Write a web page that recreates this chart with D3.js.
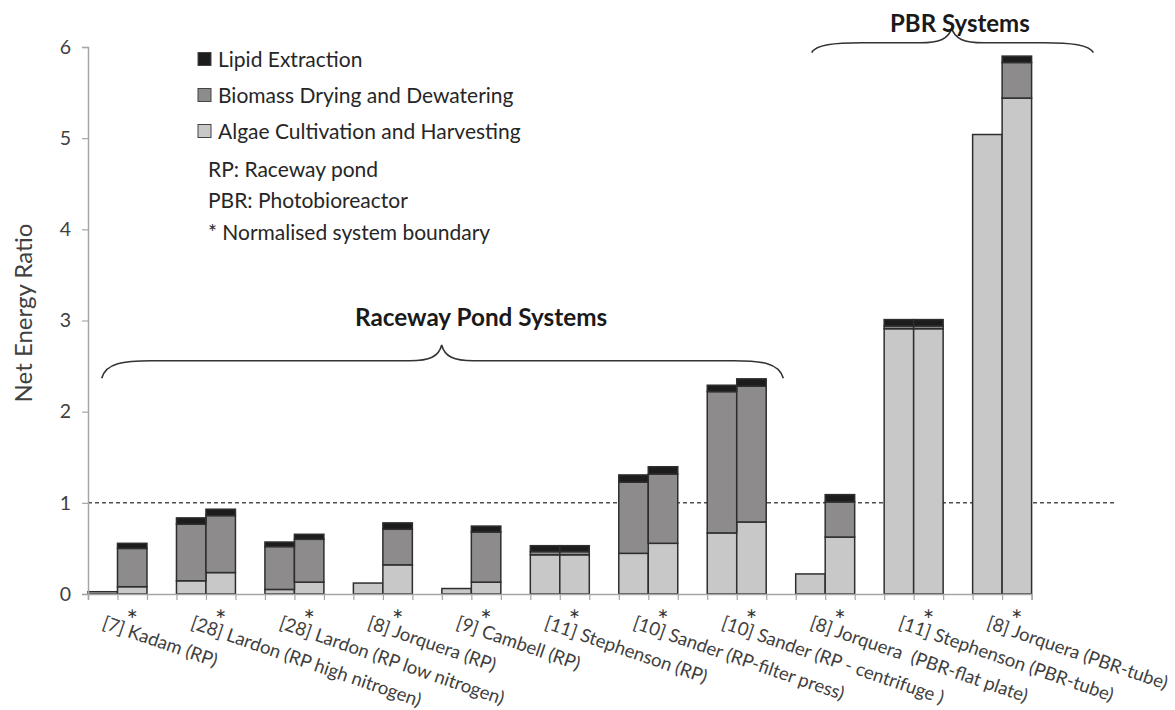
<!DOCTYPE html>
<html>
<head>
<meta charset="utf-8">
<script src="https://cdn.jsdelivr.net/npm/d3@7"></script>
<style>
    body { margin: 0; background: #fff; }
    svg { display: block; font-family: Lato, "Open Sans", sans-serif; }
</style>
</head>
<body>
<svg id="chart" width="1175" height="710"></svg>
<script>
// one entry per study, two bars each: original boundary, then normalised (*)
const groupLabels = [
    "[7] Kadam (RP)",
    "[28] Lardon (RP high nitrogen)",
    "[28] Lardon (RP low nitrogen)",
    "[8] Jorquera (RP)",
    "[9] Cambell (RP)",
    "[11] Stephenson (RP)",
    "[10] Sander (RP-filter press)",
    "[10] Sander (RP - centrifuge )",
    "[8] Jorquera  (PBR-flat plate)",
    "[11] Stephenson (PBR-tube)",
    "[8] Jorquera (PBR-tube)"
];
const algae   = [0.025, 0.08, 0.145, 0.235, 0.05, 0.13, 0.12, 0.32, 0.06, 0.13, 0.43, 0.43,
                 0.446, 0.556, 0.67, 0.79, 0.22, 0.625, 2.91, 2.91, 5.04, 5.44];
const biomass = [0, 0.42, 0.62, 0.625, 0.47, 0.47, 0, 0.39, 0, 0.55, 0.035, 0.035,
                 0.78, 0.76, 1.55, 1.49, 0, 0.385, 0.03, 0.03, 0, 0.39];
const lipid   = [0, 0.056, 0.07, 0.07, 0.05, 0.055, 0, 0.07, 0, 0.065, 0.065, 0.065,
                 0.08, 0.08, 0.07, 0.08, 0, 0.08, 0.07, 0.07, 0, 0.07];
const seriesKeys = ["algae", "biomass", "lipid"];
const seriesNames = ["Algae Cultivation and Harvesting", "Biomass Drying and Dewatering", "Lipid Extraction"];
const yTicks = [0, 1, 2, 3, 4, 5, 6];
const notes = ["RP: Raceway pond", "PBR: Photobioreactor", "* Normalised system boundary"];

const colors = { algae: "#c8c8c8", biomass: "#8d8b8c", lipid: "#1c1c1c" };

const svg = d3.select("#chart");
const nSlots = groupLabels.length * 3 - 1;   // bar, bar, gap ... no gap after the last

const xLin = d3.scaleLinear().domain([0, nSlots]).range([88, 1031.6]);
const x = d3.scaleBand().domain(d3.range(nSlots)).range([88, 1031.6]).paddingInner(0).paddingOuter(0);
const y = d3.scaleLinear().domain([0, 6]).range([594, 47]);

// rows for the stack
const rows = algae.map((a, i) => ({
    slot: Math.floor(i / 2) * 3 + (i % 2),
    algae: a, biomass: biomass[i], lipid: lipid[i]
}));
const stacked = d3.stack().keys(seriesKeys)(rows);

// reference line at NER = 1
svg.append("line")
    .attr("x1", xLin(0)).attr("x2", 1115)
    .attr("y1", y(1)).attr("y2", y(1))
    .attr("stroke", "#505050")
    .attr("stroke-width", 1.5)
    .attr("stroke-dasharray", "4,3");

// bars
svg.append("g").selectAll("g")
    .data(stacked)
    .join("g")
    .attr("fill", s => colors[s.key])
    .selectAll("rect")
    .data(s => s.filter(d => d[1] - d[0] > 0))
    .join("rect")
    .attr("x", d => x(d.data.slot))
    .attr("width", x.bandwidth())
    .attr("y", d => y(d[1]))
    .attr("height", d => y(d[0]) - y(d[1]))
    .attr("stroke", "#2e2e2e")
    .attr("stroke-width", 1.5);

// axes
const yAxis = svg.append("g")
    .attr("transform", `translate(${xLin(0)},0)`)
    .call(d3.axisLeft(y).tickValues(yTicks).tickFormat(d3.format("d")).tickSize(6).tickPadding(11));
const xAxis = svg.append("g")
    .attr("transform", `translate(0,${y(0)})`)
    .call(d3.axisBottom(xLin).tickValues(d3.range(nSlots + 1)).tickFormat("").tickSize(6));
[yAxis, xAxis].forEach(a => {
    a.select(".domain").attr("stroke", "#a6a6a6").attr("stroke-width", 1.5);
    a.selectAll(".tick line").attr("stroke", "#a6a6a6").attr("stroke-width", 1.2);
});
yAxis.selectAll(".tick text")
    .attr("font-size", 19.5)
    .attr("fill", "#404040")
    .attr("font-family", "Lato, sans-serif");

// category labels and asterisks
const labels = svg.append("g");
groupLabels.forEach((lab, g) => {
    const cx = x(g * 3 + 1) + x.bandwidth() / 2;
    labels.append("text")
        .attr("x", cx).attr("y", 630)
        .attr("text-anchor", "middle")
        .attr("font-size", 27)
        .attr("fill", "#333")
        .text("*");
    labels.append("text")
        .attr("transform", `translate(${cx - 31},628) rotate(19)`)
        .attr("font-size", 18.5)
        .attr("fill", "#404040")
        .style("white-space", "pre")
        .text(lab);
});

// y title
svg.append("text")
    .attr("transform", "translate(31.5,313) rotate(-90)")
    .attr("text-anchor", "middle")
    .attr("font-size", 24)
    .attr("fill", "#404040")
    .text("Net Energy Ratio");

// legend (top entry first, as in the stacked order from the top)
const legend = svg.append("g");
const legendOrder = [2, 1, 0];
legendOrder.forEach((si, r) => {
    const cy = 59 + r * 36;
    legend.append("rect")
        .attr("x", 198).attr("y", cy - 6.5)
        .attr("width", 13).attr("height", 13)
        .attr("fill", colors[seriesKeys[si]])
        .attr("stroke", "#444").attr("stroke-width", 1);
    legend.append("text")
        .attr("x", 218).attr("y", cy + 7.5)
        .attr("font-size", 21)
        .attr("fill", "#262626")
        .text(seriesNames[si]);
});
notes.forEach((t, i) => {
    legend.append("text")
        .attr("x", 208).attr("y", 176.5 + i * 31.7)
        .attr("font-size", 21)
        .attr("fill", "#262626")
        .text(t);
});

// group braces
function brace(x0, x1, xm, yEnd, yH, yPeak) {
    const p = d3.path();
    p.moveTo(x0, yEnd);
    p.bezierCurveTo(x0 + 4, yH + 2, x0 + 22, yH, x0 + 50, yH);
    p.lineTo(xm - 32, yH);
    p.bezierCurveTo(xm - 12, yH, xm - 3, yH - 4, xm, yPeak);
    p.bezierCurveTo(xm + 3, yH - 4, xm + 12, yH, xm + 32, yH);
    p.lineTo(x1 - 50, yH);
    p.bezierCurveTo(x1 - 22, yH, x1 - 4, yH + 2, x1, yEnd);
    return p.toString();
}
svg.append("path")
    .attr("d", brace(101.7, 783.3, 441.7, 378.3, 360.7, 345))
    .attr("fill", "none").attr("stroke", "#333").attr("stroke-width", 1.6);
svg.append("path")
    .attr("d", brace(811.7, 1093.3, 951.7, 52.7, 42.7, 28.3))
    .attr("fill", "none").attr("stroke", "#333").attr("stroke-width", 1.6);

svg.append("text")
    .attr("x", 355).attr("y", 326)
    .attr("font-size", 24.3).attr("font-weight", 700)
    .attr("fill", "#1a1a1a")
    .text("Raceway Pond Systems");
svg.append("text")
    .attr("x", 890).attr("y", 32)
    .attr("font-size", 24).attr("font-weight", 700)
    .attr("fill", "#1a1a1a")
    .text("PBR Systems");
</script>
</body>
</html>
